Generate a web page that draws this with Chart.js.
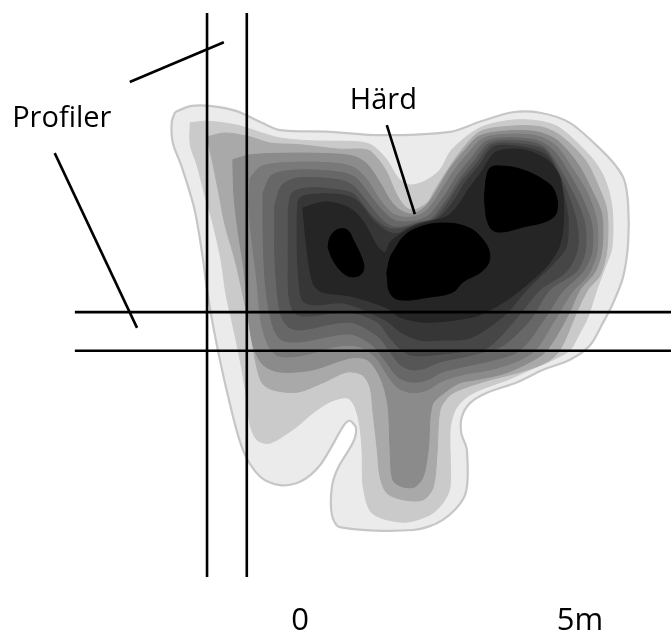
<!DOCTYPE html>
<html><head><meta charset="utf-8">
<script src="https://cdn.jsdelivr.net/npm/chart.js@4/dist/chart.umd.min.js"></script>
<style>html,body{margin:0;padding:0;background:#fff}#wrap{width:671px;height:641px;position:relative}</style>
</head><body><div id="wrap"><canvas id="c"></canvas></div>
<script>
// Map coordinates in metres (x east, y north)
const xTickValues = [0, 5];
const xTickLabels = ['0', '5m'];

const contour1 = [[-2.23,8.71],[-1.96,8.82],[-1.57,8.82],[-1.13,8.73],[-0.68,8.52],[-0.36,8.39],[0.54,8.36],[1.43,8.30],[2.68,8.36],[3.21,8.54],[3.80,8.71],[4.29,8.70],[4.82,8.52],[5.27,8.14],[5.61,7.79],[5.79,7.50],[5.86,7.05],[5.86,6.38],[5.77,5.77],[5.59,5.30],[5.41,4.95],[5.18,4.55],[4.82,4.29],[4.34,4.11],[3.88,3.89],[3.34,3.70],[3.04,3.52],[2.89,3.27],[2.88,2.98],[2.98,2.68],[2.95,1.88],[2.55,1.43],[2.02,1.25],[0.71,1.30],[0.57,1.52],[0.57,2.02],[0.68,2.36],[0.95,2.82],[1.00,3.07],[0.89,3.20],[0.79,3.13],[0.36,2.41],[0,2.11],[-0.36,2.05],[-0.71,2.20],[-1.02,2.68],[-1.29,3.66],[-1.52,4.73],[-1.66,5.54],[-1.73,6.07],[-1.88,6.96],[-2.11,7.73],[-2.27,8.16],[-2.29,8.54]];
const contour2 = [[-1.96,8.52],[-1.66,8.55],[-1.13,8.48],[-0.68,8.34],[-0.36,8.25],[0.18,8.20],[1.07,8.18],[1.30,8.11],[1.55,7.86],[1.75,7.54],[1.96,7.41],[2.23,7.48],[2.50,7.68],[2.71,8.04],[3.21,8.43],[3.80,8.57],[4.29,8.55],[4.64,8.43],[5.18,7.93],[5.43,7.55],[5.57,7.02],[5.57,6.30],[5.43,5.89],[5.30,5.54],[5.14,5.05],[4.96,4.70],[4.82,4.46],[4.52,4.29],[4.11,4.11],[3.70,3.93],[3.21,3.75],[2.96,3.61],[2.77,3.39],[2.68,3.04],[2.68,2.02],[2.55,1.73],[2.32,1.52],[1.84,1.39],[1.29,1.55],[1.13,2.02],[1.11,2.63],[1.07,3.09],[0.98,3.45],[0.84,3.61],[0.54,3.54],[0.23,3.34],[-0.09,3.07],[-0.54,2.80],[-0.77,2.86],[-0.89,3.13],[-0.96,3.66],[-1.07,4.29],[-1.20,4.91],[-1.32,5.45],[-1.41,6.07],[-1.55,6.70],[-1.70,7.23],[-1.84,7.77],[-1.96,8.13]];
const contour3 = [[-1.66,8.27],[-1.34,8.34],[-0.89,8.27],[-0.54,8.16],[0,8.13],[0.71,8.05],[1.20,8.04],[1.38,7.89],[1.55,7.64],[1.73,7.23],[1.88,7.02],[2.02,6.96],[2.27,7.09],[2.41,7.32],[2.61,7.64],[2.86,8.00],[3.21,8.36],[3.75,8.46],[4.29,8.45],[4.64,8.30],[5.09,7.86],[5.32,7.41],[5.48,6.96],[5.48,6.25],[5.36,5.80],[5.14,5.54],[4.96,5.18],[4.64,4.46],[4.41,4.25],[3.93,4.07],[3.39,3.93],[2.95,3.79],[2.68,3.66],[2.50,3.39],[2.45,2.68],[2.38,2.02],[2.20,1.79],[1.84,1.79],[1.55,1.91],[1.43,2.20],[1.38,2.68],[1.30,3.39],[1.25,3.80],[1.11,4.02],[0.84,4.07],[0.41,3.88],[-0.05,3.71],[-0.48,3.75],[-0.68,3.88],[-0.80,4.29],[-0.89,4.82],[-1.02,5.45],[-1.16,6.07],[-1.34,6.70],[-1.46,7.32],[-1.57,7.86]];
const contour4 = [[-1.20,7.86],[-0.89,7.95],[0,7.98],[0.71,7.96],[1.00,7.91],[1.21,7.77],[1.43,7.45],[1.61,7.14],[1.79,6.96],[2.00,6.89],[2.21,7.00],[2.36,7.18],[2.50,7.41],[2.68,7.71],[2.95,8.04],[3.21,8.29],[3.75,8.38],[4.23,8.36],[4.59,8.21],[4.96,7.79],[5.21,7.32],[5.39,6.88],[5.39,6.25],[5.27,5.86],[5.00,5.54],[4.79,5.09],[4.41,4.46],[4.11,4.25],[3.66,4.05],[3.13,3.93],[2.86,3.88],[2.59,3.71],[2.36,3.48],[2.29,2.68],[2.20,2.20],[2.05,2.02],[1.84,2.02],[1.66,2.14],[1.61,2.68],[1.57,3.48],[1.43,3.98],[1.20,4.29],[0.89,4.32],[0.23,4.11],[-0.36,4.07],[-0.66,4.20],[-0.84,4.55],[-0.93,5.18],[-1.00,5.89],[-1.11,6.61],[-1.18,7.23]];
const contour5 = [[-0.89,7.54],[-0.68,7.75],[0,7.82],[0.71,7.79],[0.98,7.71],[1.20,7.50],[1.43,7.14],[1.64,6.91],[1.82,6.84],[2.02,6.84],[2.23,6.93],[2.39,7.11],[2.55,7.36],[2.73,7.64],[2.98,7.95],[3.29,8.25],[3.84,8.32],[4.29,8.27],[4.59,8.09],[4.86,7.71],[5.13,7.27],[5.30,6.75],[5.30,6.21],[5.14,5.80],[4.86,5.50],[4.55,5.00],[4.20,4.46],[3.84,4.25],[3.39,4.11],[2.89,4.02],[2.54,3.91],[2.27,3.75],[2.00,3.70],[1.75,3.79],[1.57,4.00],[1.36,4.32],[1.07,4.52],[0.71,4.54],[0,4.36],[-0.39,4.36],[-0.57,4.55],[-0.70,5.00],[-0.77,5.71],[-0.86,6.43],[-0.91,7.05]];
const contour6 = [[-0.66,7.27],[-0.50,7.59],[0,7.68],[0.71,7.64],[0.98,7.55],[1.18,7.32],[1.43,7.00],[1.66,6.79],[1.86,6.75],[2.07,6.77],[2.29,6.86],[2.45,7.04],[2.63,7.29],[2.80,7.57],[3.05,7.88],[3.34,8.20],[3.89,8.25],[4.30,8.18],[4.55,8.00],[4.79,7.64],[5.04,7.18],[5.21,6.70],[5.21,6.21],[5.05,5.86],[4.68,5.50],[4.38,5.04],[3.93,4.46],[3.48,4.29],[2.89,4.16],[2.54,4.07],[2.27,3.93],[2.00,3.89],[1.75,3.98],[1.54,4.25],[1.29,4.55],[0.89,4.75],[0,4.61],[-0.32,4.64],[-0.46,4.82],[-0.57,5.27],[-0.63,5.80],[-0.66,6.61]];
const contour7 = [[-0.45,7.05],[-0.32,7.41],[0,7.54],[0.71,7.50],[0.96,7.39],[1.14,7.18],[1.38,6.88],[1.61,6.68],[1.82,6.66],[2.07,6.73],[2.34,6.80],[2.50,6.98],[2.68,7.23],[2.86,7.52],[3.11,7.84],[3.39,8.16],[3.93,8.20],[4.32,8.11],[4.52,7.89],[4.73,7.54],[4.95,7.11],[5.09,6.70],[5.09,6.21],[4.93,5.86],[4.46,5.54],[4.11,5.00],[3.63,4.55],[3.21,4.41],[2.82,4.32],[2.50,4.25],[2.23,4.14],[2.00,4.11],[1.79,4.20],[1.61,4.43],[1.39,4.71],[0.89,4.96],[0,4.82],[-0.21,4.88],[-0.34,5.09],[-0.41,5.54],[-0.45,6.16],[-0.45,6.70]];
const contour8 = [[-0.21,6.96],[-0.14,7.27],[0.18,7.36],[0.71,7.32],[0.96,7.25],[1.11,7.07],[1.32,6.82],[1.57,6.64],[1.79,6.63],[2.11,6.71],[2.38,6.79],[2.54,6.95],[2.71,7.20],[2.89,7.48],[3.16,7.80],[3.43,8.13],[3.96,8.14],[4.36,8.04],[4.57,7.73],[4.79,7.23],[4.95,6.70],[4.95,6.25],[4.75,5.86],[4.29,5.54],[3.84,5.00],[3.34,4.50],[2.86,4.43],[2.50,4.39],[2.21,4.36],[1.96,4.38],[1.75,4.52],[1.57,4.73],[1.39,4.96],[0.89,5.14],[0.09,5.07],[-0.11,5.14],[-0.20,5.45],[-0.21,6.07],[-0.21,6.52]];
const contour9 = [[-0.05,6.88],[0,7.18],[0.36,7.25],[0.77,7.23],[1.02,7.13],[1.30,6.79],[1.54,6.59],[1.73,6.54],[1.93,6.64],[2.14,6.73],[2.43,6.80],[2.59,6.93],[2.77,7.16],[2.95,7.45],[3.21,7.77],[3.46,8.09],[3.96,8.09],[4.39,7.95],[4.61,7.59],[4.77,6.96],[4.79,6.70],[4.75,6.29],[4.50,5.98],[4.05,5.54],[3.66,5.09],[3.04,4.68],[2.50,4.64],[2.14,4.64],[1.79,4.79],[1.52,5.00],[0.80,5.30],[0.27,5.27],[0.05,5.34],[-0.02,5.71],[-0.05,6.25]];
const contour10 = [[0.05,7.00],[0.45,7.11],[0.84,7.02],[1.07,6.84],[1.25,6.55],[1.39,6.30],[1.52,6.21],[1.61,6.39],[1.75,6.50],[1.96,6.63],[2.23,6.73],[2.50,6.80],[2.64,6.86],[2.82,7.04],[3.00,7.32],[3.25,7.66],[3.50,8.00],[3.98,8.04],[4.41,7.86],[4.64,7.55],[4.71,6.88],[4.64,6.34],[4.41,5.96],[4.05,5.63],[3.70,5.36],[3.21,5.09],[2.77,5.00],[2.23,4.96],[1.79,5.05],[1.52,5.23],[0.89,5.43],[0.39,5.50],[0.23,5.66],[0.13,6.21]];
const peakLeft = [[0.50,6.30],[0.54,6.48],[0.66,6.61],[0.84,6.61],[0.95,6.43],[1.13,6.02],[1.11,5.84],[0.95,5.77],[0.77,5.84],[0.59,6.07]];
const peakHearth = [[1.55,5.84],[1.61,6.11],[1.71,6.29],[1.86,6.50],[2.09,6.64],[2.50,6.73],[2.98,6.66],[3.27,6.43],[3.39,6.13],[3.27,5.89],[2.91,5.68],[2.73,5.50],[2.32,5.41],[1.79,5.36],[1.61,5.48]];
const peakRight = [[3.32,7.50],[3.39,7.71],[3.57,7.75],[3.98,7.68],[4.41,7.46],[4.55,7.29],[4.59,6.96],[4.46,6.79],[3.98,6.66],[3.57,6.57],[3.39,6.66],[3.30,7.09]];

const profileLines = [
  [[-1.66,10.48],[-1.66,0.41]],
  [[-0.95,10.48],[-0.95,0.41]],
  [[-4.02,5.14],[6.63,5.14]],
  [[-4.02,4.45],[6.63,4.45]]
];
const pointerLines = [
  [[-3.04,9.25],[-1.36,9.96]],
  [[-4.38,7.98],[-2.91,4.86]],
  [[1.55,8.48],[2.05,6.89]]
];
const labels = [
  {text: 'Profiler', x: -5.14, y: 8.45},
  {text: 'Härd', x: 0.89, y: 8.77}
];

const shapes = [contour1, contour2, contour3, contour4, contour5, contour6, contour7, contour8, contour9, contour10, peakLeft, peakHearth, peakRight];
const shapeLevel = [0,1,2,3,4,5,6,7,8,9,10,10,10];
const levelColors = ['#ebebeb','#cacaca','#a9a9a9','#8b8b8b','#797979','#676767','#565656','#464646','#363636','#252525','#000000'];

const toXY = pts => pts.map(p => ({x: p[0], y: p[1]}));
const closed = pts => toXY(pts.concat([pts[0]]));

const datasets = [];
shapes.forEach((pts, i) => {
  const lvl = shapeLevel[i];
  const col = levelColors[lvl];
  datasets.push({
    data: closed(pts),
    fill: 'shape',
    backgroundColor: col,
    borderColor: lvl === 0 ? '#c6c6c6' : col,
    borderWidth: lvl === 0 ? 2.2 : 1,
    pointRadius: 0,
    tension: lvl === 10 ? 0.4 : 0.3,
    order: 100 - i
  });
});
profileLines.concat(pointerLines).forEach(pts => {
  datasets.push({
    data: toXY(pts), fill: false, borderColor: '#000', borderWidth: 2.6,
    pointRadius: 0, tension: 0, order: 0
  });
});

const labelPlugin = {
  id: 'mapLabels',
  afterDatasetsDraw(chart) {
    const {ctx, scales: {x, y}} = chart;
    ctx.save();
    ctx.font = '29px "Open Sans"';
    ctx.fillStyle = '#000';
    ctx.textAlign = 'left';
    ctx.textBaseline = 'alphabetic';
    labels.forEach(l => ctx.fillText(l.text, x.getPixelForValue(l.x), y.getPixelForValue(l.y)));
    ctx.restore();
  }
};

new Chart(document.getElementById('c'), {
  type: 'line',
  data: {datasets},
  options: {
    responsive: true, maintainAspectRatio: false, animation: false, events: [],
    layout: {padding: 0},
    plugins: {legend: {display: false}, tooltip: {enabled: false}},
    scales: {
      x: {
        type: 'linear', min: -5.357, max: 6.625,
        grid: {display: false, drawTicks: false}, border: {display: false},
        afterBuildTicks: s => { s.ticks = xTickValues.map(v => ({value: v})); },
        afterFit: s => { s.height = 41; },
        ticks: {
          autoSkip: false, maxRotation: 0, padding: 3, color: '#000',
          font: {family: 'Open Sans', size: 31},
          callback: v => xTickLabels[xTickValues.indexOf(v)]
        }
      },
      y: {type: 'linear', min: 0, max: 10.714, display: false}
    }
  },
  plugins: [labelPlugin]
});
</script>
</body></html>
